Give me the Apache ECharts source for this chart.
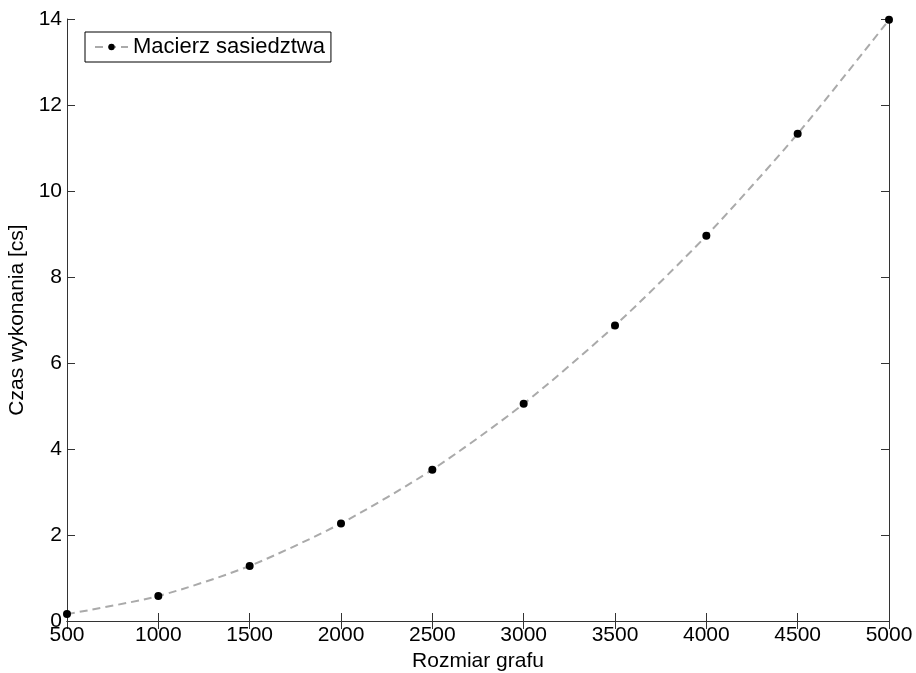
<!DOCTYPE html>
<html>
<head>
<meta charset="utf-8">
<script src="https://cdn.jsdelivr.net/npm/echarts@6/dist/echarts.min.js"></script>
<style>
  html, body { margin: 0; padding: 0; background: #fff; }
  #chart { width: 916px; height: 673px; }
</style>
</head>
<body>
<div id="chart"></div>
<script>
// rozmiar grafu (liczba wierzcholkow)
const sizes = [500, 1000, 1500, 2000, 2500, 3000, 3500, 4000, 4500, 5000];
// czas wykonania [cs]
const timesAdj = [0.16, 0.58, 1.28, 2.27, 3.52, 5.05, 6.87, 8.96, 11.33, 13.98];
const seriesName = 'Macierz sasiedztwa';

let myChart = echarts.init(document.getElementById('chart'));
const font = 'Liberation Sans, Arial, sans-serif';
const frame = '#333';

myChart.setOption({
  animation: false,
  backgroundColor: '#fff',
  textStyle: { fontFamily: font },
  grid: { left: 67, right: 27, top: 19, bottom: 52, containLabel: false, outerBoundsMode: 'none' },
  legend: {
    left: 85, top: 32,
    orient: 'vertical',
    data: [seriesName],
    backgroundColor: '#fff',
    borderColor: '#000',
    borderWidth: 1,
    borderRadius: 0,
    padding: [4, 6, 4, 9],
    itemWidth: 33,
    itemHeight: 8,
    textStyle: { fontSize: 22, color: '#000', fontFamily: font }
  },
  xAxis: [
    {
      type: 'value', min: 500, max: 5000, interval: 500,
      name: 'Rozmiar grafu', nameLocation: 'middle', nameGap: 27,
      nameTextStyle: { fontSize: 21, color: '#000', fontFamily: font },
      axisLine: { lineStyle: { color: frame } },
      axisTick: { inside: true, length: 8, lineStyle: { color: frame } },
      axisLabel: { fontSize: 21, color: '#000', margin: 4, formatter: v => String(v) },
      splitLine: { show: false }
    },
    {
      type: 'value', min: 500, max: 5000, interval: 500, position: 'top',
      axisLine: { lineStyle: { color: frame } },
      axisTick: { inside: true, length: 8, lineStyle: { color: frame } },
      axisLabel: { show: false },
      splitLine: { show: false }
    }
  ],
  yAxis: [
    {
      type: 'value', min: 0, max: 14, interval: 2,
      name: 'Czas wykonania [cs]', nameLocation: 'middle', nameGap: 35,
      nameTextStyle: { fontSize: 21, color: '#000', fontFamily: font },
      axisLine: { show: true, lineStyle: { color: frame } },
      axisTick: { show: true, inside: true, length: 8, lineStyle: { color: frame } },
      axisLabel: { fontSize: 21, color: '#000', margin: 5 },
      splitLine: { show: false }
    },
    {
      type: 'value', min: 0, max: 14, interval: 2, position: 'right',
      axisLine: { show: true, lineStyle: { color: frame } },
      axisTick: { show: true, inside: true, length: 8, lineStyle: { color: frame } },
      axisLabel: { show: false },
      splitLine: { show: false }
    }
  ],
  series: [
    {
      type: 'line',
      name: seriesName,
      data: sizes.map((s, i) => [s, timesAdj[i]]),
      smooth: 0.25,
      symbol: 'circle',
      symbolSize: 8,
      itemStyle: { color: '#000' },
      lineStyle: { color: '#aaaaaa', width: 2, type: [8, 5] }
    }
  ]
});
</script>
</body>
</html>
